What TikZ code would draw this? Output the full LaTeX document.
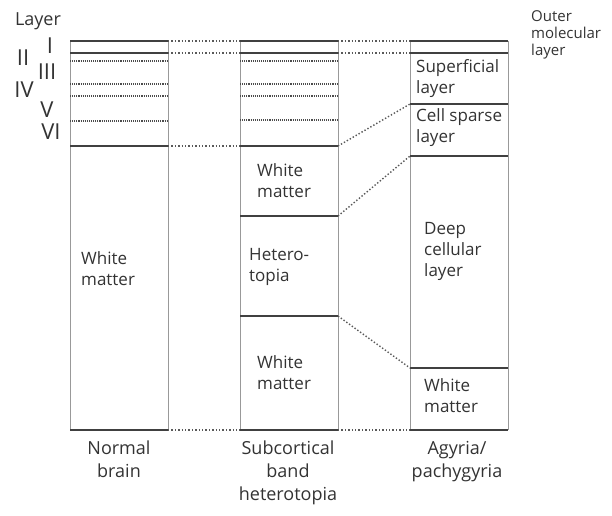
\documentclass[tikz,border=0pt]{standalone}
\usepackage{fontspec}
\setmainfont{Open Sans}
\usepackage{tikz}

\tikzset{
  bound/.style={line width=2pt, black!75},
  sublayer/.style={densely dotted, line width=1.1pt, black!70},
  link/.style={dotted, line width=1.4pt, black!65},
  side/.style={line width=0.6pt, black!40},
  lbl/.style={align=left, text=black!80, inner sep=0pt, font=\fontsize{17}{21}\selectfont},
  caption/.style={align=center, text=black!80, inner sep=0pt, font=\fontsize{18}{23}\selectfont},
  numeral/.style={text=black!80, inner sep=0pt, font=\fontsize{22}{22}\selectfont},
}

\begin{document}
\begin{tikzpicture}[x=1pt, y=-1pt]
    \useasboundingbox (0,0) rectangle (612,515);

    % Normal brain
    \draw[side] (70,41) -- (70,430); \draw[side] (168,41) -- (168,430);
    \draw[bound] (70,41) coordinate (n1) -- (168,41) coordinate (n1r); % layer I top
    \draw[bound] (70,53) coordinate (n2) -- (168,53) coordinate (n2r);
    \foreach \y in {61,84,96,121}
        \draw[sublayer] (70,\y) -- (168,\y);
    \draw[bound] (70,146) coordinate (n3) -- (168,146) coordinate (n3r); % layer VI bottom
    \draw[bound] (70,430) coordinate (n4) -- (168,430) coordinate (n4r);
    \node[lbl, anchor=west] (nwm) at (81,269) {White\\matter};

    % layer numbers
    \node[caption] (layer) at (38,21) {Layer};
    \node[numeral] (l1) at (50,46) {I};
    \node[numeral] (l2) at (23,58) {II};
    \node[numeral] (l3) at (47,72) {III};
    \node[numeral] (l4) at (24,90) {IV};
    \node[numeral] (l5) at (47,110) {V};
    \node[numeral] (l6) at (51,132) {VI};

    % Subcortical band heterotopia
    \draw[side] (240,41) -- (240,430); \draw[side] (338,41) -- (338,430);
    \draw[bound] (240,41) coordinate (s1) -- (338,41) coordinate (s1r);
    \draw[bound] (240,53) coordinate (s2) -- (338,53) coordinate (s2r);
    \foreach \y in {61,84,96,120}
        \draw[sublayer] (240,\y) -- (338,\y);
    \draw[bound] (240,146) coordinate (s3) -- (338,146) coordinate (s3r);
    \draw[bound] (240,216) coordinate (s4) -- (338,216) coordinate (s4r); % band top
    \draw[bound] (240,316) coordinate (s5) -- (338,316) coordinate (s5r); % band bottom
    \draw[bound] (240,430) coordinate (s6) -- (338,430) coordinate (s6r);
    \node[lbl, anchor=west] (swm1) at (257,181) {White\\matter};
    \node[lbl, anchor=west] (shet) at (249,267) {Hetero-\\topia};
    \node[lbl, anchor=west] (swm2) at (257,373) {White\\matter};

    % Agyria/pachygyria
    \draw[side] (410,41) -- (410,430); \draw[side] (508,41) -- (508,430);
    \draw[bound] (410,41) coordinate (a1) -- (508,41);
    \draw[bound] (410,53) coordinate (a2) -- (508,53);
    \draw[bound] (410,104) coordinate (a3) -- (508,104);
    \draw[bound] (410,156) coordinate (a4) -- (508,156);
    \draw[bound] (410,368) coordinate (a5) -- (508,368);
    \draw[bound] (410,430) coordinate (a6) -- (508,430);
    \node[lbl, anchor=west] (asup) at (416,79) {Superficial\\layer};
    \node[lbl, anchor=west] (acsl) at (416,128) {Cell sparse\\layer};
    \node[lbl, anchor=west] (adcl) at (424,251) {Deep\\cellular\\layer};
    \node[lbl, anchor=west] (awm) at (424,396) {White\\matter};

    % dotted links between columns
    \draw[link] (n1r) -- (s1); \draw[link] (n2r) -- (s2);
    \draw[link] (n3r) -- (s3); \draw[link] (n4r) -- (s6);
    \draw[link] (s1r) -- (a1); \draw[link] (s2r) -- (a2);
    \draw[link] (s3r) -- (a3); \draw[link] (s4r) -- (a4);
    \draw[link] (s5r) -- (a5); \draw[link] (s6r) -- (a6);

    \node[lbl, anchor=north west, font=\fontsize{15}{17}\selectfont] (outer) at (531,10) {Outer\\molecular\\layer};

    % captions
    \node[caption, anchor=north] (cap1) at (119,441) {Normal\\brain};
    \node[caption, anchor=north] (cap2) at (288,441) {Subcortical\\band\\heterotopia};
    \node[caption, anchor=north] (cap3) at (457,441) {Agyria/\\pachygyria};
\end{tikzpicture}
\end{document}
